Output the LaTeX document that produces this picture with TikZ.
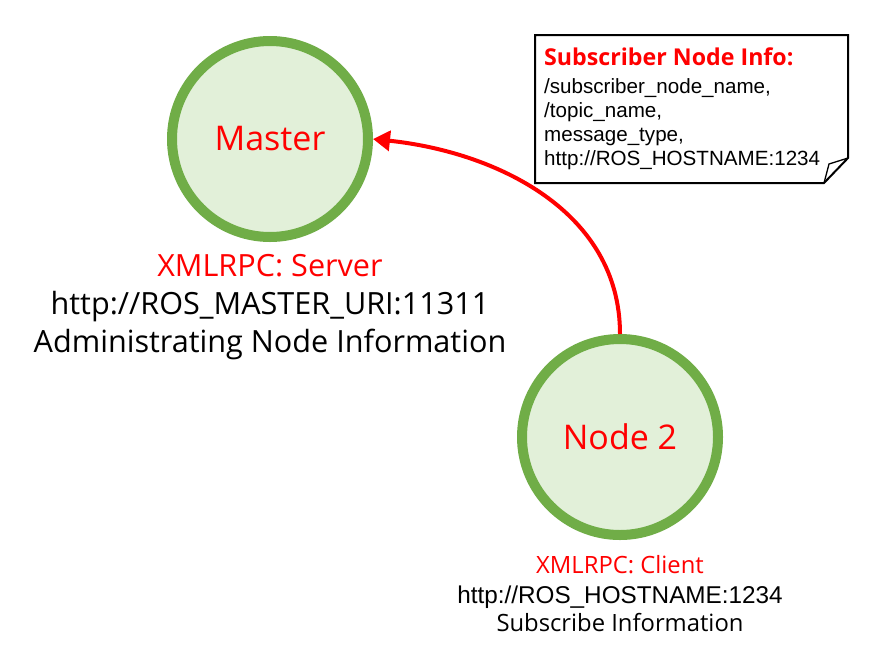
\documentclass[tikz,border=0pt]{standalone}
\usepackage{fontspec}
\setmainfont{Open Sans}
\newfontfamily\arialfont{Liberation Sans}
\usetikzlibrary{arrows.meta}
\definecolor{rosgreen}{RGB}{112,173,71}
\definecolor{rosfill}{RGB}{226,240,217}
\definecolor{rosred}{RGB}{255,0,0}
\tikzset{
  rosnode/.style={circle, draw=rosgreen, fill=rosfill, line width=10pt,
    minimum size=196pt, inner sep=0pt, text=rosred,
    font=\fontsize{34}{40}\selectfont},
  biglabel/.style={anchor=base, inner sep=0pt, font=\fontsize{30.6}{36}\selectfont},
  smalllabel/.style={anchor=base, inner sep=0pt, font=\fontsize{23.8}{28}\selectfont},
  arialsmall/.style={anchor=base, inner sep=0pt, font=\arialfont\fontsize{24.3}{28}\selectfont},
  notehead/.style={anchor=base west, inner sep=0pt, text=rosred, font=\bfseries\fontsize{23.2}{27}\selectfont},
  noteline/.style={anchor=base west, inner sep=0pt, font=\arialfont\fontsize{20.6}{24}\selectfont},
  flow/.style={draw=rosred, line width=4pt, -{Triangle[length=17pt,width=20pt]}}
}
\begin{document}
\begin{tikzpicture}[x=1pt,y=1pt]
\useasboundingbox (0,0) rectangle (874,-662);
% nodes
\node[rosnode] (master) at (270,-139) {Master};
\node[rosnode] (node2) at (620,-437) {Node 2};
% master labels
\node[biglabel, text=rosred] (m1) at (270,-276) {XMLRPC: Server};
\node[biglabel] (m2) at (270,-314) {http://ROS\_MASTER\_URI:11311};
\node[biglabel] (m3) at (270,-352) {Administrating Node Information};
% node 2 labels
\node[smalllabel, text=rosred] (n1) at (620,-573) {XMLRPC: Client};
\node[arialsmall] (n2) at (620,-603) {http://ROS\_HOSTNAME:1234};
\node[smalllabel] (n3) at (620,-631) {Subscribe Information};
% connector
\draw[flow] (node2.north) to[out=90, in=-6] (master.east);
% note box
\coordinate (nb1) at (535,-35);
\coordinate (nb2) at (848,-35);
\coordinate (nb3) at (848,-158);
\coordinate (nb4) at (824,-183);
\coordinate (nb5) at (535,-183);
\coordinate (nbf) at (829,-164);
\draw[line width=2pt, line join=miter, fill=white] (nb1) -- (nb2) -- (nb3) -- (nb4) -- (nb5) -- cycle;
\draw[line width=1.3pt] (nb3) -- (nbf) -- (nb4);
\node[notehead] (t0) at (544,-65) {Subscriber Node Info:};
\node[noteline] (t1) at (544,-93) {/subscriber\_node\_name,};
\node[noteline] (t2) at (544,-117) {/topic\_name,};
\node[noteline] (t3) at (544,-141) {message\_type,};
\node[noteline] (t4) at (544,-165) {http://ROS\_HOSTNAME:1234};
\end{tikzpicture}
\end{document}
